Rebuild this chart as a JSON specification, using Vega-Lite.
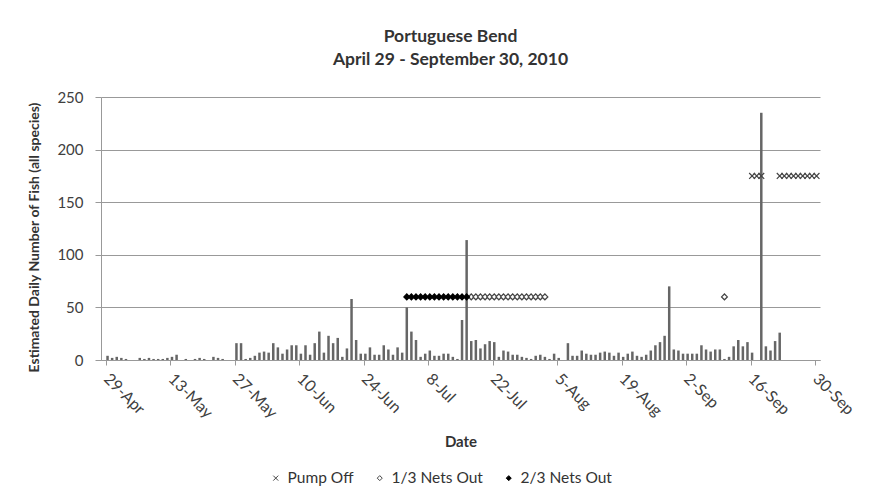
{
  "$schema": "https://vega.github.io/schema/vega-lite/v6.json",
  "width": 719,
  "height": 263,
  "autosize": {"type": "none"},
  "padding": {"left": 101, "top": 97, "right": 50, "bottom": 143},
  "background": "white",
  "title": {
    "text": ["Portuguese Bend", "April 29 - September 30, 2010"],
    "font": "Lato", "fontSize": 17.5, "fontWeight": "bold", "color": "#333333",
    "lineHeight": 23, "anchor": "middle", "offset": 22, "dx": -10
  },
  "config": {"view": {"stroke": null}, "font": "Lato"},
  "datasets": {
    "fish": [
      {"date": "2010-04-29T08:00:00Z", "fish": 4}, {"date": "2010-04-30T08:00:00Z", "fish": 2},
      {"date": "2010-05-01T08:00:00Z", "fish": 3}, {"date": "2010-05-02T08:00:00Z", "fish": 2},
      {"date": "2010-05-03T08:00:00Z", "fish": 1}, {"date": "2010-05-06T08:00:00Z", "fish": 2},
      {"date": "2010-05-07T08:00:00Z", "fish": 1}, {"date": "2010-05-08T08:00:00Z", "fish": 2},
      {"date": "2010-05-09T08:00:00Z", "fish": 1}, {"date": "2010-05-10T08:00:00Z", "fish": 1},
      {"date": "2010-05-11T08:00:00Z", "fish": 1}, {"date": "2010-05-12T08:00:00Z", "fish": 2},
      {"date": "2010-05-13T08:00:00Z", "fish": 3}, {"date": "2010-05-14T08:00:00Z", "fish": 5},
      {"date": "2010-05-16T08:00:00Z", "fish": 1}, {"date": "2010-05-18T08:00:00Z", "fish": 1},
      {"date": "2010-05-19T08:00:00Z", "fish": 2}, {"date": "2010-05-20T08:00:00Z", "fish": 1},
      {"date": "2010-05-22T08:00:00Z", "fish": 3}, {"date": "2010-05-23T08:00:00Z", "fish": 2},
      {"date": "2010-05-24T08:00:00Z", "fish": 1}, {"date": "2010-05-27T08:00:00Z", "fish": 16},
      {"date": "2010-05-28T08:00:00Z", "fish": 16}, {"date": "2010-05-29T08:00:00Z", "fish": 1},
      {"date": "2010-05-30T08:00:00Z", "fish": 2}, {"date": "2010-05-31T08:00:00Z", "fish": 4},
      {"date": "2010-06-01T08:00:00Z", "fish": 7}, {"date": "2010-06-02T08:00:00Z", "fish": 8},
      {"date": "2010-06-03T08:00:00Z", "fish": 7}, {"date": "2010-06-04T08:00:00Z", "fish": 16},
      {"date": "2010-06-05T08:00:00Z", "fish": 12}, {"date": "2010-06-06T08:00:00Z", "fish": 6},
      {"date": "2010-06-07T08:00:00Z", "fish": 10}, {"date": "2010-06-08T08:00:00Z", "fish": 14},
      {"date": "2010-06-09T08:00:00Z", "fish": 14}, {"date": "2010-06-10T08:00:00Z", "fish": 6},
      {"date": "2010-06-11T08:00:00Z", "fish": 14}, {"date": "2010-06-12T08:00:00Z", "fish": 5},
      {"date": "2010-06-13T08:00:00Z", "fish": 16}, {"date": "2010-06-14T08:00:00Z", "fish": 27},
      {"date": "2010-06-15T08:00:00Z", "fish": 7}, {"date": "2010-06-16T08:00:00Z", "fish": 23},
      {"date": "2010-06-17T08:00:00Z", "fish": 16}, {"date": "2010-06-18T08:00:00Z", "fish": 21},
      {"date": "2010-06-19T08:00:00Z", "fish": 3}, {"date": "2010-06-20T08:00:00Z", "fish": 11},
      {"date": "2010-06-21T08:00:00Z", "fish": 58}, {"date": "2010-06-22T08:00:00Z", "fish": 19},
      {"date": "2010-06-23T08:00:00Z", "fish": 6}, {"date": "2010-06-24T08:00:00Z", "fish": 6},
      {"date": "2010-06-25T08:00:00Z", "fish": 12}, {"date": "2010-06-26T08:00:00Z", "fish": 5},
      {"date": "2010-06-27T08:00:00Z", "fish": 5}, {"date": "2010-06-28T08:00:00Z", "fish": 14},
      {"date": "2010-06-29T08:00:00Z", "fish": 10}, {"date": "2010-06-30T08:00:00Z", "fish": 5},
      {"date": "2010-07-01T08:00:00Z", "fish": 12}, {"date": "2010-07-02T08:00:00Z", "fish": 7},
      {"date": "2010-07-03T08:00:00Z", "fish": 50}, {"date": "2010-07-04T08:00:00Z", "fish": 27},
      {"date": "2010-07-05T08:00:00Z", "fish": 19}, {"date": "2010-07-06T08:00:00Z", "fish": 3},
      {"date": "2010-07-07T08:00:00Z", "fish": 6}, {"date": "2010-07-08T08:00:00Z", "fish": 9},
      {"date": "2010-07-09T08:00:00Z", "fish": 4}, {"date": "2010-07-10T08:00:00Z", "fish": 4},
      {"date": "2010-07-11T08:00:00Z", "fish": 6}, {"date": "2010-07-12T08:00:00Z", "fish": 6},
      {"date": "2010-07-13T08:00:00Z", "fish": 3}, {"date": "2010-07-14T08:00:00Z", "fish": 1},
      {"date": "2010-07-15T08:00:00Z", "fish": 38}, {"date": "2010-07-16T08:00:00Z", "fish": 114},
      {"date": "2010-07-17T08:00:00Z", "fish": 18}, {"date": "2010-07-18T08:00:00Z", "fish": 19},
      {"date": "2010-07-19T08:00:00Z", "fish": 11}, {"date": "2010-07-20T08:00:00Z", "fish": 15},
      {"date": "2010-07-21T08:00:00Z", "fish": 18}, {"date": "2010-07-22T08:00:00Z", "fish": 17},
      {"date": "2010-07-23T08:00:00Z", "fish": 3}, {"date": "2010-07-24T08:00:00Z", "fish": 9},
      {"date": "2010-07-25T08:00:00Z", "fish": 8}, {"date": "2010-07-26T08:00:00Z", "fish": 5},
      {"date": "2010-07-27T08:00:00Z", "fish": 5}, {"date": "2010-07-28T08:00:00Z", "fish": 3},
      {"date": "2010-07-29T08:00:00Z", "fish": 2}, {"date": "2010-07-30T08:00:00Z", "fish": 1},
      {"date": "2010-07-31T08:00:00Z", "fish": 4}, {"date": "2010-08-01T08:00:00Z", "fish": 5},
      {"date": "2010-08-02T08:00:00Z", "fish": 3}, {"date": "2010-08-03T08:00:00Z", "fish": 1},
      {"date": "2010-08-04T08:00:00Z", "fish": 6}, {"date": "2010-08-05T08:00:00Z", "fish": 2},
      {"date": "2010-08-07T08:00:00Z", "fish": 16}, {"date": "2010-08-08T08:00:00Z", "fish": 4},
      {"date": "2010-08-09T08:00:00Z", "fish": 4}, {"date": "2010-08-10T08:00:00Z", "fish": 9},
      {"date": "2010-08-11T08:00:00Z", "fish": 6}, {"date": "2010-08-12T08:00:00Z", "fish": 5},
      {"date": "2010-08-13T08:00:00Z", "fish": 5}, {"date": "2010-08-14T08:00:00Z", "fish": 7},
      {"date": "2010-08-15T08:00:00Z", "fish": 8}, {"date": "2010-08-16T08:00:00Z", "fish": 7},
      {"date": "2010-08-17T08:00:00Z", "fish": 4}, {"date": "2010-08-18T08:00:00Z", "fish": 7},
      {"date": "2010-08-19T08:00:00Z", "fish": 3}, {"date": "2010-08-20T08:00:00Z", "fish": 6},
      {"date": "2010-08-21T08:00:00Z", "fish": 8}, {"date": "2010-08-22T08:00:00Z", "fish": 4},
      {"date": "2010-08-23T08:00:00Z", "fish": 3}, {"date": "2010-08-24T08:00:00Z", "fish": 5},
      {"date": "2010-08-25T08:00:00Z", "fish": 9}, {"date": "2010-08-26T08:00:00Z", "fish": 14},
      {"date": "2010-08-27T08:00:00Z", "fish": 17}, {"date": "2010-08-28T08:00:00Z", "fish": 23},
      {"date": "2010-08-29T08:00:00Z", "fish": 70}, {"date": "2010-08-30T08:00:00Z", "fish": 10},
      {"date": "2010-08-31T08:00:00Z", "fish": 9}, {"date": "2010-09-01T08:00:00Z", "fish": 6},
      {"date": "2010-09-02T08:00:00Z", "fish": 6}, {"date": "2010-09-03T08:00:00Z", "fish": 6},
      {"date": "2010-09-04T08:00:00Z", "fish": 6}, {"date": "2010-09-05T08:00:00Z", "fish": 14},
      {"date": "2010-09-06T08:00:00Z", "fish": 10}, {"date": "2010-09-07T08:00:00Z", "fish": 8},
      {"date": "2010-09-08T08:00:00Z", "fish": 10}, {"date": "2010-09-09T08:00:00Z", "fish": 10},
      {"date": "2010-09-10T08:00:00Z", "fish": 1}, {"date": "2010-09-11T08:00:00Z", "fish": 3},
      {"date": "2010-09-12T08:00:00Z", "fish": 13}, {"date": "2010-09-13T08:00:00Z", "fish": 19},
      {"date": "2010-09-14T08:00:00Z", "fish": 13}, {"date": "2010-09-15T08:00:00Z", "fish": 17},
      {"date": "2010-09-16T08:00:00Z", "fish": 7}, {"date": "2010-09-18T08:00:00Z", "fish": 235},
      {"date": "2010-09-19T08:00:00Z", "fish": 13}, {"date": "2010-09-20T08:00:00Z", "fish": 9},
      {"date": "2010-09-21T08:00:00Z", "fish": 18}, {"date": "2010-09-22T08:00:00Z", "fish": 26}
    ],
    "events": [
      {"date": "2010-09-16T08:00:00Z", "level": 175, "event": "Pump Off"},
      {"date": "2010-09-17T08:00:00Z", "level": 175, "event": "Pump Off"},
      {"date": "2010-09-18T08:00:00Z", "level": 175, "event": "Pump Off"},
      {"date": "2010-09-22T08:00:00Z", "level": 175, "event": "Pump Off"},
      {"date": "2010-09-23T08:00:00Z", "level": 175, "event": "Pump Off"},
      {"date": "2010-09-24T08:00:00Z", "level": 175, "event": "Pump Off"},
      {"date": "2010-09-25T08:00:00Z", "level": 175, "event": "Pump Off"},
      {"date": "2010-09-26T08:00:00Z", "level": 175, "event": "Pump Off"},
      {"date": "2010-09-27T08:00:00Z", "level": 175, "event": "Pump Off"},
      {"date": "2010-09-28T08:00:00Z", "level": 175, "event": "Pump Off"},
      {"date": "2010-09-29T08:00:00Z", "level": 175, "event": "Pump Off"},
      {"date": "2010-09-30T08:00:00Z", "level": 175, "event": "Pump Off"},
      {"date": "2010-07-17T08:00:00Z", "level": 60, "event": "1/3 Nets Out"},
      {"date": "2010-07-18T08:00:00Z", "level": 60, "event": "1/3 Nets Out"},
      {"date": "2010-07-19T08:00:00Z", "level": 60, "event": "1/3 Nets Out"},
      {"date": "2010-07-20T08:00:00Z", "level": 60, "event": "1/3 Nets Out"},
      {"date": "2010-07-21T08:00:00Z", "level": 60, "event": "1/3 Nets Out"},
      {"date": "2010-07-22T08:00:00Z", "level": 60, "event": "1/3 Nets Out"},
      {"date": "2010-07-23T08:00:00Z", "level": 60, "event": "1/3 Nets Out"},
      {"date": "2010-07-24T08:00:00Z", "level": 60, "event": "1/3 Nets Out"},
      {"date": "2010-07-25T08:00:00Z", "level": 60, "event": "1/3 Nets Out"},
      {"date": "2010-07-26T08:00:00Z", "level": 60, "event": "1/3 Nets Out"},
      {"date": "2010-07-27T08:00:00Z", "level": 60, "event": "1/3 Nets Out"},
      {"date": "2010-07-28T08:00:00Z", "level": 60, "event": "1/3 Nets Out"},
      {"date": "2010-07-29T08:00:00Z", "level": 60, "event": "1/3 Nets Out"},
      {"date": "2010-07-30T08:00:00Z", "level": 60, "event": "1/3 Nets Out"},
      {"date": "2010-07-31T08:00:00Z", "level": 60, "event": "1/3 Nets Out"},
      {"date": "2010-08-01T08:00:00Z", "level": 60, "event": "1/3 Nets Out"},
      {"date": "2010-08-02T08:00:00Z", "level": 60, "event": "1/3 Nets Out"},
      {"date": "2010-09-10T08:00:00Z", "level": 60, "event": "1/3 Nets Out"},
      {"date": "2010-07-03T08:00:00Z", "level": 60, "event": "2/3 Nets Out"},
      {"date": "2010-07-04T08:00:00Z", "level": 60, "event": "2/3 Nets Out"},
      {"date": "2010-07-05T08:00:00Z", "level": 60, "event": "2/3 Nets Out"},
      {"date": "2010-07-06T08:00:00Z", "level": 60, "event": "2/3 Nets Out"},
      {"date": "2010-07-07T08:00:00Z", "level": 60, "event": "2/3 Nets Out"},
      {"date": "2010-07-08T08:00:00Z", "level": 60, "event": "2/3 Nets Out"},
      {"date": "2010-07-09T08:00:00Z", "level": 60, "event": "2/3 Nets Out"},
      {"date": "2010-07-10T08:00:00Z", "level": 60, "event": "2/3 Nets Out"},
      {"date": "2010-07-11T08:00:00Z", "level": 60, "event": "2/3 Nets Out"},
      {"date": "2010-07-12T08:00:00Z", "level": 60, "event": "2/3 Nets Out"},
      {"date": "2010-07-13T08:00:00Z", "level": 60, "event": "2/3 Nets Out"},
      {"date": "2010-07-14T08:00:00Z", "level": 60, "event": "2/3 Nets Out"},
      {"date": "2010-07-15T08:00:00Z", "level": 60, "event": "2/3 Nets Out"},
      {"date": "2010-07-16T08:00:00Z", "level": 60, "event": "2/3 Nets Out"}
    ]
  },
  "layer": [
    {
      "data": {"name": "fish"},
      "mark": {"type": "bar", "width": 2.5, "color": "#666666"},
      "encoding": {
        "x": {
          "field": "date", "type": "temporal",
          "scale": {"type": "utc", "domain": [{"year": 2010, "month": 4, "date": 29, "utc": true}, {"year": 2010, "month": 9, "date": 30, "utc": true}], "nice": false},
          "axis": {
            "values": [
              {"year": 2010, "month": 4, "date": 29, "utc": true},
              {"year": 2010, "month": 5, "date": 13, "utc": true},
              {"year": 2010, "month": 5, "date": 27, "utc": true},
              {"year": 2010, "month": 6, "date": 10, "utc": true},
              {"year": 2010, "month": 6, "date": 24, "utc": true},
              {"year": 2010, "month": 7, "date": 8, "utc": true},
              {"year": 2010, "month": 7, "date": 22, "utc": true},
              {"year": 2010, "month": 8, "date": 5, "utc": true},
              {"year": 2010, "month": 8, "date": 19, "utc": true},
              {"year": 2010, "month": 9, "date": 2, "utc": true},
              {"year": 2010, "month": 9, "date": 16, "utc": true},
              {"year": 2010, "month": 9, "date": 30, "utc": true}
            ],
            "labelExpr": "utcFormat(datum.value, '%-d-%b')",
            "labelAngle": 45, "labelAlign": "left", "labelBaseline": "middle",
            "labelFont": "Lato", "labelFontSize": 16, "labelColor": "#404040",
            "labelPadding": 11, "labelOverlap": false, "labelFlush": false, "labelBound": false,
            "tickSize": 5, "tickColor": "#999999", "domainColor": "#999999", "grid": false,
            "title": "Date", "titleFont": "Lato", "titleFontSize": 15, "titleFontWeight": "bold",
            "titleColor": "#333333", "titlePadding": 14
          }
        },
        "y": {
          "field": "fish", "type": "quantitative",
          "scale": {"domain": [0, 250], "nice": false},
          "axis": {
            "values": [0, 50, 100, 150, 200, 250],
            "grid": true, "gridColor": "#999999", "domainColor": "#999999",
            "tickColor": "#999999", "tickSize": 6,
            "labelFont": "Lato", "labelFontSize": 15, "labelColor": "#404040", "labelPadding": 12,
            "title": "Estimated Daily Number of Fish (all species)",
            "titleFont": "Lato", "titleFontSize": 14, "titleFontWeight": "bold", "titleColor": "#333333",
            "titlePadding": 15, "titleY": 140
          }
        }
      }
    },
    {
      "data": {"name": "events"},
      "mark": {"type": "point", "filled": true, "size": 34, "strokeWidth": 1.2, "opacity": 1},
      "encoding": {
        "x": {"field": "date", "type": "temporal"},
        "y": {"field": "level", "type": "quantitative"},
        "shape": {
          "field": "event", "type": "nominal",
          "scale": {"domain": ["Pump Off", "1/3 Nets Out", "2/3 Nets Out"], "range": ["M-1,-1L1,1M1,-1L-1,1", "diamond", "diamond"]},
          "legend": {"title": null, "orient": "none", "legendX": 167, "legendY": 373, "direction": "horizontal", "labelFont": "Lato", "labelFontSize": 15.5, "labelColor": "#333333", "symbolSize": 25, "symbolStrokeWidth": 1, "columnPadding": 18, "labelOffset": 4}
        },
        "fill": {
          "field": "event", "type": "nominal",
          "scale": {"domain": ["Pump Off", "1/3 Nets Out", "2/3 Nets Out"], "range": ["transparent", "white", "black"]},
          "legend": {"title": null, "orient": "none", "legendX": 167, "legendY": 373, "direction": "horizontal", "labelFont": "Lato", "labelFontSize": 15.5, "labelColor": "#333333", "symbolSize": 25, "symbolStrokeWidth": 1, "columnPadding": 18, "labelOffset": 4}
        },
        "stroke": {
          "field": "event", "type": "nominal",
          "scale": {"domain": ["Pump Off", "1/3 Nets Out", "2/3 Nets Out"], "range": ["#444444", "#444444", "black"]},
          "legend": {"title": null, "orient": "none", "legendX": 167, "legendY": 373, "direction": "horizontal", "labelFont": "Lato", "labelFontSize": 15.5, "labelColor": "#333333", "symbolSize": 25, "symbolStrokeWidth": 1, "columnPadding": 18, "labelOffset": 4}
        }
      }
    }
  ]
}
